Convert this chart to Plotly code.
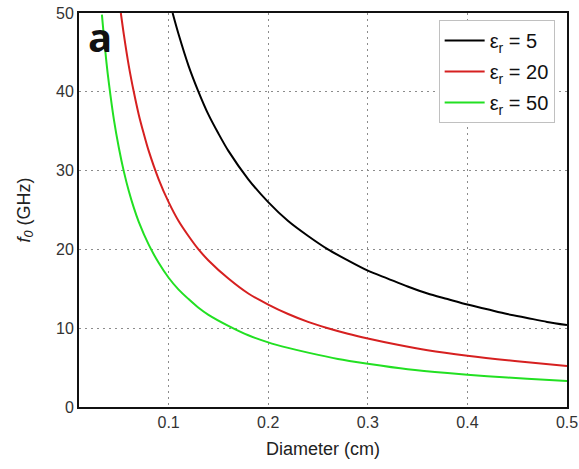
import plotly.graph_objects as go

# Diameter (cm) and resonance frequency f0 (GHz)
d_er5 = [0.104, 0.11, 0.12, 0.13, 0.14, 0.15, 0.16, 0.18, 0.20, 0.22, 0.24, 0.26, 0.28, 0.30,
         0.32, 0.34, 0.36, 0.38, 0.40, 0.42, 0.44, 0.46, 0.48, 0.50]
f_er5 = [50.0, 47.3, 43.3, 40.0, 37.1, 34.7, 32.5, 28.9, 26.0, 23.6, 21.7, 20.0, 18.6, 17.3,
         16.3, 15.3, 14.4, 13.7, 13.0, 12.4, 11.8, 11.3, 10.8, 10.4]

d_er20 = [0.052, 0.055, 0.06, 0.065, 0.07, 0.075, 0.08, 0.09, 0.10, 0.11, 0.12, 0.13, 0.14, 0.16,
          0.18, 0.20, 0.22, 0.24, 0.26, 0.28, 0.30, 0.33, 0.36, 0.40, 0.45, 0.50]
f_er20 = [50.0, 47.3, 43.3, 40.0, 37.1, 34.7, 32.5, 28.9, 26.0, 23.6, 21.7, 20.0, 18.6, 16.3,
          14.4, 13.0, 11.8, 10.8, 10.0, 9.3, 8.7, 7.9, 7.2, 6.5, 5.8, 5.2]

d_er50 = [0.033, 0.035, 0.0375, 0.04, 0.045, 0.05, 0.055, 0.06, 0.065, 0.07, 0.08, 0.09, 0.10, 0.11,
          0.12, 0.13, 0.14, 0.16, 0.18, 0.20, 0.22, 0.24, 0.27, 0.30, 0.34, 0.38, 0.42, 0.46, 0.50]
f_er50 = [49.8, 47.0, 43.8, 41.1, 36.5, 32.9, 29.9, 27.4, 25.3, 23.5, 20.6, 18.3, 16.4, 14.9,
          13.7, 12.6, 11.7, 10.3, 9.1, 8.2, 7.5, 6.9, 6.1, 5.5, 4.8, 4.3, 3.9, 3.6, 3.3]

series_names = ["ε<sub>r</sub> = 5", "ε<sub>r</sub> = 20", "ε<sub>r</sub> = 50"]
series_colors = ["#000000", "#d62020", "#22e022"]

x_ticks = [0.1, 0.2, 0.3, 0.4, 0.5]
y_ticks = [0, 10, 20, 30, 40, 50]

fig = go.Figure()
for i, (d, f, name, color) in enumerate(zip([d_er5, d_er20, d_er50], [f_er5, f_er20, f_er50], series_names, series_colors)):
    fig.add_trace(go.Scatter(x=d, y=f, mode="lines", name=name, legendgroup=f"g{i}",
                             line=dict(color=color, width=2, shape="spline", smoothing=0.8)))

axis_common = dict(
    showline=True, linecolor="#111111", linewidth=2, mirror=True,
    showgrid=True, gridcolor="#8c8c8c", griddash="2px,4px", gridwidth=1.2,
    zeroline=False, ticks="", automargin=False,
    tickfont=dict(family="Arial, Liberation Sans", size=16, color="#333333"),
)

fig.update_layout(
    template="none",
    width=579, height=469,
    margin=dict(l=79, r=12, t=13, b=62),
    paper_bgcolor="white", plot_bgcolor="white",
    font=dict(family="Arial, Liberation Sans", color="#222222"),
    xaxis=dict(range=[0.01, 0.5], tickvals=x_ticks, ticktext=[str(v) for v in x_ticks],
               title=dict(text="Diameter (cm)", font=dict(size=18), standoff=12), **axis_common),
    yaxis=dict(range=[0, 50], tickvals=y_ticks, ticktext=[str(v) for v in y_ticks],
               title=dict(text="<i>f<sub>0</sub></i> (GHz)", font=dict(size=18), standoff=21), **axis_common),
    legend=dict(x=0.737, y=0.982, xanchor="left", yanchor="top",
                bgcolor="white", bordercolor="#c0c0c0", borderwidth=1,
                font=dict(size=20, color="#111111"), itemwidth=40, tracegroupgap=2),
    showlegend=True,
    annotations=[dict(text="<b>a</b>", x=0.015, y=1.015, xref="paper", yref="paper",
                      xanchor="left", yanchor="top", showarrow=False,
                      font=dict(family="Open Sans, Liberation Sans", size=40, color="#111111"))],
)

fig.write_html("out.html", config={"displayModeBar": False},
               post_script="document.body.style.margin='0';")
